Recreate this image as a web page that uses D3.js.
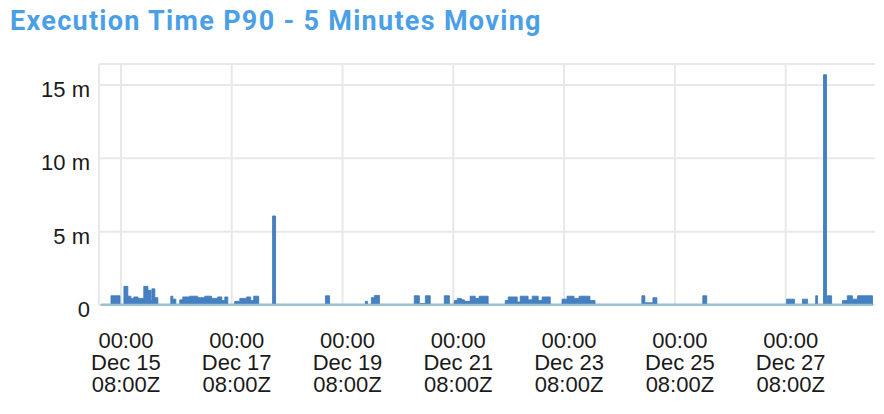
<!DOCTYPE html>
<html>
<head>
<meta charset="utf-8">
<script src="https://cdn.jsdelivr.net/npm/d3@7"></script>
<style>
  html, body { margin: 0; padding: 0; background: #fff; }
  svg { display: block; }
</style>
</head>
<body>
<svg id="chart" width="884" height="414"></svg>
<script>
// ---- data ----
const title = "Execution Time P90 - 5 Minutes Moving";
// step breakpoints: hours offset from Dec 15 08:00Z, value (minutes) holds until next point
const hours = [-8.6, -4.3, -0.4, 1.3, 3.0, 4.3, 5.6, 7.4, 9.9, 11.7, 13.0, 13.4, 14.7, 16.0,
  21.6, 22.5, 23.8, 25.5, 26.8, 29.8, 33.3, 36.3, 39.3, 41.9, 43.7, 45.0, 46.3, 49.3, 51.5,
  54.5, 56.2, 57.5, 59.7, 65.7, 67.0, 88.6, 90.4, 105.9, 106.8, 108.5, 109.8, 112.0, 127.1,
  129.3, 131.9, 134.0, 140.1, 142.3, 144.4, 145.7, 147.5, 148.8, 151.3, 153.5, 155.2, 159.1,
  166.5, 167.8, 171.7, 173.0, 176.4, 178.2, 180.8, 182.5, 186.0, 191.1, 193.3, 196.3, 198.5,
  203.2, 205.4, 225.7, 227.0, 230.5, 232.2, 252.1, 253.8, 288.4, 291.8, 295.3, 297.5, 301.0,
  301.8, 304.4, 305.7, 306.1, 307.9, 312.6, 314.7, 316.9, 319.1, 325.6];
const minutes = [0.05, 0.63, 0.05, 1.27, 0.6, 0.45, 0.55, 0.45, 1.27, 1.0, 0.3, 1.1, 0.5, 0.05,
  0.6, 0.4, 0.05, 0.35, 0.55, 0.6, 0.5, 0.6, 0.45, 0.55, 0.3, 0.55, 0.05, 0.25, 0.45,
  0.55, 0.3, 0.6, 0.05, 6.07, 0.05, 0.63, 0.05, 0.25, 0.05, 0.5, 0.65, 0.05, 0.63,
  0.1, 0.63, 0.05, 0.63, 0.05, 0.3, 0.45, 0.35, 0.25, 0.6, 0.45, 0.6, 0.05,
  0.3, 0.55, 0.2, 0.6, 0.35, 0.6, 0.3, 0.55, 0.05, 0.4, 0.6, 0.45, 0.6,
  0.3, 0.05, 0.63, 0.15, 0.5, 0.05, 0.63, 0.05, 0.4, 0.05, 0.4, 0.05, 0.63,
  0.05, 15.7, 0.05, 0.63, 0.05, 0.3, 0.63, 0.4, 0.63, 0.63];
const yTicks = [0, 5, 10, 15];
const yTickLabels = ["0", "5 m", "10 m", "15 m"];
const xTickHours = [0, 48, 96, 144, 192, 240, 288];
const xTickLine1 = ["00:00", "00:00", "00:00", "00:00", "00:00", "00:00", "00:00"];
const xTickLine2 = ["Dec 15", "Dec 17", "Dec 19", "Dec 21", "Dec 23", "Dec 25", "Dec 27"];
const xTickLine3 = ["08:00Z", "08:00Z", "08:00Z", "08:00Z", "08:00Z", "08:00Z", "08:00Z"];

// ---- layout ----
const origin = Date.UTC(2023, 11, 15, 8, 0);
const toDate = h => new Date(origin + h * 3600e3);
const data = hours.map((h, i) => ({ t: toDate(h), v: minutes[i] }));

const svg = d3.select("#chart");
const pLeft = 99, pRight = 875, pTop = 64, pBottom = 305;

const x = d3.scaleUtc().domain([toDate(-9.5), toDate(326.7)]).range([pLeft, pRight]);
const y = d3.scaleLinear().domain([0, 16.43]).range([pBottom, pTop]);

svg.append("text")
  .attr("x", 10).attr("y", 30)
  .attr("font-family", "Roboto, 'Noto Sans', sans-serif")
  .attr("font-weight", 700)
  .attr("font-size", 27)
  .attr("letter-spacing", 1.3)
  .attr("fill", "#4b9fe7")
  .text(title);

const grid = svg.append("g").attr("stroke", "#e8e8e8").attr("stroke-width", 2);
grid.selectAll(".hg").data(yTicks.concat([16.43])).join("line")
  .attr("x1", pLeft).attr("x2", pRight)
  .attr("y1", d => y(d)).attr("y2", d => y(d));
grid.selectAll(".vg").data(xTickHours).join("line")
  .attr("x1", d => x(toDate(d))).attr("x2", d => x(toDate(d)))
  .attr("y1", pTop).attr("y2", pBottom);
grid.append("line").attr("x1", pLeft).attr("x2", pLeft).attr("y1", pTop).attr("y2", pBottom);

const area = d3.area()
  .x(d => x(d.t)).y0(y(0)).y1(d => y(d.v))
  .curve(d3.curveStepAfter);
svg.append("path").datum(data)
  .attr("d", area)
  .attr("fill", "#4580c2")
  .attr("stroke", "#3a76b8")
  .attr("stroke-width", 0.8);

svg.append("line")
  .attr("x1", x(data[0].t)).attr("x2", x(data[data.length - 1].t))
  .attr("y1", y(0) - 0.5).attr("y2", y(0) - 0.5)
  .attr("stroke", "#9cc4cc").attr("stroke-width", 1.5);

const font = "'Liberation Sans', Arial, Helvetica, sans-serif";
svg.append("g").selectAll("text").data(yTicks).join("text")
  .attr("x", 90).attr("y", d => y(d) + 12)
  .attr("text-anchor", "end")
  .attr("font-family", font).attr("font-size", 22).attr("fill", "#1a1a1a")
  .text((d, i) => yTickLabels[i]);

const xl = svg.append("g").selectAll("text").data(xTickHours).join("text")
  .attr("text-anchor", "middle")
  .attr("font-family", font).attr("font-size", 22).attr("fill", "#1a1a1a");
[xTickLine1, xTickLine2, xTickLine3].forEach((lines, k) => {
  xl.append("tspan")
    .attr("x", d => x(toDate(d)) + 5)
    .attr("y", 348 + k * 22)
    .text((d, i) => lines[i]);
});
</script>
</body>
</html>
